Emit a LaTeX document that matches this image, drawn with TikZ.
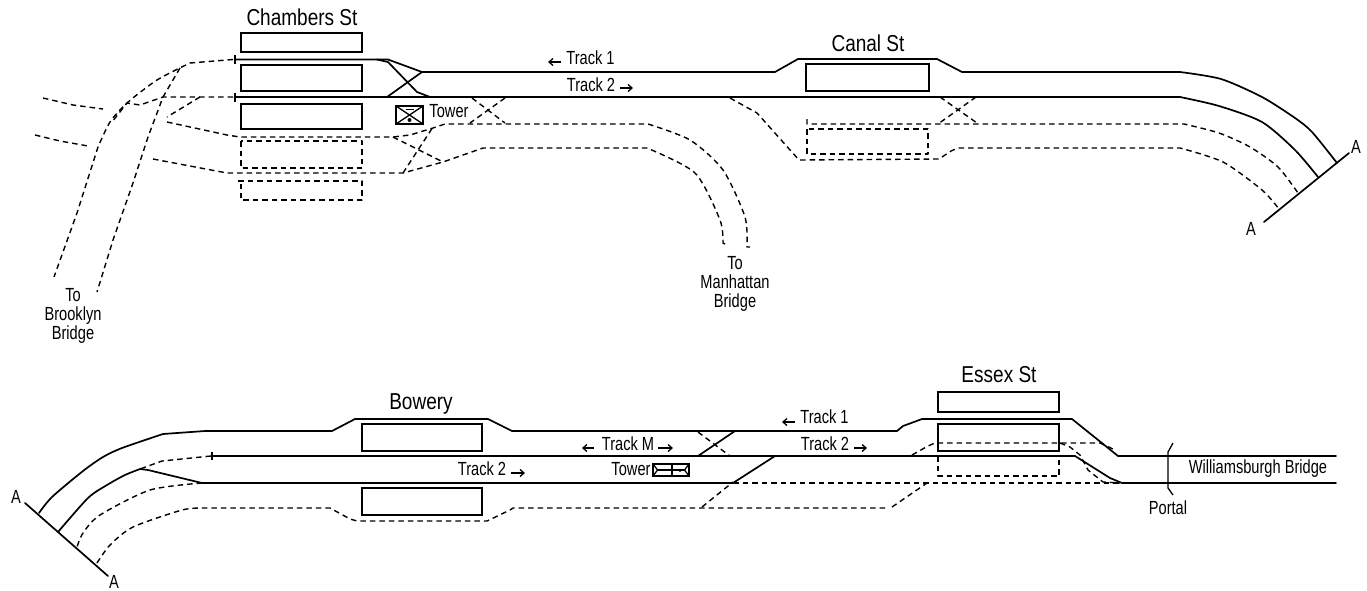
\documentclass[tikz,border=0pt]{standalone}
\usepackage{fontspec}
\setmainfont[FakeStretch=0.77]{Liberation Sans}
\newfontfamily\stationfont[FakeStretch=0.827]{Liberation Sans}
\usetikzlibrary{arrows.meta}
\tikzset{
  x=1pt,y=-1pt,
  track/.style={line width=1.7pt,line join=round,line cap=round,black},
  dash track/.style={line width=1.4pt,line join=round,dash pattern=on 5.5pt off 4pt,black},
  fine/.style={line width=1.3pt,black},
  box/.style={line width=1.8pt,black},
  label/.style={inner sep=0pt,align=center,font=\fontsize{19}{19}\selectfont},
  station/.style={inner sep=0pt,font=\stationfont\fontsize{23}{25}\selectfont},
  arr/.style={line width=1.3pt,-{Straight Barb[length=4pt,width=7pt]}},
  crv/.style={smooth,tension=.45},
}
\newcommand{\plat}[2]{\draw[box] #1 rectangle #2;}
\newcommand{\dplat}[2]{\draw[dash track] #1 rectangle #2;}
\begin{document}
\begin{tikzpicture}
\useasboundingbox (0,0) rectangle (1367,590);
% --- upper map: platforms
\plat{(241,33)}{(362,52)}
\plat{(241,65)}{(362,91)}
\plat{(241,104)}{(362,129)}
\plat{(806,64)}{(929,91)}
\dplat{(241,141)}{(362,168)}
\draw[dash track] (238,181) -- (362,181) -- (362,200) -- (241,200) -- (241,184);
\dplat{(807,129)}{(928,154)}
% --- upper map: solid tracks
\draw[track] (235,59.5) -- (388,59.5) -- (422,72) -- (775,72) -- (798,59) -- (937,59) -- (962,72)
  -- plot[crv] coordinates {(1180,72) (1221,79) (1262,97) (1295,118) (1312,132) (1337,163)};
\draw[track] (235,97) -- plot[crv] coordinates {(1180,97) (1219,106) (1262,122) (1295,150) (1318,177)};
\draw[track] (377,59.5) -- (388,62) -- (417,92) -- (430,97);
\draw[track] (387,97) -- (422,72);
\draw[fine] (235,55) -- (235,64) (235,92.5) -- (235,101.5);
% --- upper map: dashed to Brooklyn Bridge
\draw[dash track] (233,59.5) -- plot[crv] coordinates {(190,63) (157,80) (127,103) (110,122) (98,147)} -- (77,213) -- (54,277);
\draw[dash track] (180,68) -- (163,97) -- (148,137) -- (133,183) -- (113,240) -- (97,292);
\draw[dash track] (233,97) -- (163,97) -- (140,105) -- (127,103) -- (112,122);
\draw[dash track] (200,97) -- (167,117);
\draw[dash track] (43,98) -- (73,105) -- (103,109);
\draw[dash track] (35,135) -- (60,141) -- (88,146);
% --- upper map: dashed to Manhattan Bridge
\draw[dash track] (167,122) -- (227,135) -- (240,137) -- (393,137) -- (410,135) -- (433,128) -- (445,124)
  -- plot[crv] coordinates {(648,124) (690,140) (723,170) (745,217) (747,247)} -- (750,247);
\draw[dash track] (153,159) -- (227,173) -- (403,173) -- (443,162) -- (483,148)
  -- plot[crv] coordinates {(647,148) (695,173) (720,220) (723,243)} -- (727,245);
\draw[dash track] (393,137) -- (443,162);
\draw[dash track] (403,173) -- (433,127);
\draw[dash track] (472,98) -- (505,123);
\draw[dash track] (505,98) -- (470,123);
% --- upper map: dashed at Canal St
\draw[dash track] (730,98) -- (757,113) -- (799,160) -- (939,159) -- (951,151) -- (958,148)
  -- plot[crv] coordinates {(1180,148) (1223,162) (1262,190) (1279,209)};
\draw[dash track] (807,119) -- (807,124)
  -- plot[crv] coordinates {(1184,124) (1219,133) (1250,147) (1278,167) (1298,193)};
\draw[dash track] (940,97) -- (977,123);
\draw[dash track] (976,97) -- (938,124);
\draw[track] (1349,153) -- (1264,222);
% --- upper labels
\node[station] (chambers) at (302,17) {Chambers St};
\node[station] (canal) at (868,43) {Canal St};
\node[label] (t1a) at (590.5,58) {Track 1};
\node[label] (t2a) at (591,85) {Track 2};
\draw[arr] (561,62) -- (548,62);
\draw[arr] (620,88) -- (633,88);
\node[label] (towera) at (449,111) {Tower};
\node[label] (manh) at (735,284) {To\\Manhattan\\Bridge};
\node[label] (brook) at (73,316) {To\\Brooklyn\\Bridge};
\node[label] (aa) at (1356,147) {A};
\node[label] (ab) at (1251,229) {A};
% tower symbol
\draw[box] (396,106) rectangle (423,124);
\draw[fine] (396,106) -- (423,124) (423,106) -- (396,124);
\draw[fine] (405.5,109.5) -- (414,109.5);
\fill (409.5,120) circle (2pt);
% --- lower map: platforms
\plat{(362,424)}{(482,451)}
\plat{(362,488)}{(482,515)}
\plat{(938,392)}{(1059,412)}
\plat{(938,424)}{(1059,451)}
\draw[dash track] (938,456) -- (938,476) -- (1059,476) -- (1059,456);
% --- lower map: solid tracks
\draw[track] plot[crv] coordinates {(39,513) (52,497) (83,471) (103,457) (122,448) (163,434)} -- (205,431) -- (332,431)
  -- (355,419) -- (488,419) -- (512,431) -- (897,431) -- (903,426) -- (922,419) -- (1072,419) -- (1118,456) -- (1336,456);
\draw[track] (212,456) -- (1075,456) -- (1110,478) -- (1122,483) -- (1336,483);
\draw[track] (698,456) -- (735,431);
\draw[track] plot[crv] coordinates {(58,532) (88,498) (107,485) (125,475) (140,469)} -- (148,470) -- (202,483) -- (733,483) -- (775,456);
\draw[fine] (212,452) -- (212,460);
\draw[track] (25,503) -- (108,576);
% --- lower map: dashed
\draw[dash track] (698,432) -- (730,456);
\draw[dash track] (211,456) -- (162,461) -- (140,469);
\draw[dash track] plot[crv] coordinates {(202,483) (150,490) (100,515) (83,533) (77,547)};
\draw[dash track] plot[crv] coordinates {(97,563) (110,545) (133,527) (182,510) (203,508)} -- (330,508) -- (350,519) -- (357,521)
  -- (487,521) -- (510,510) -- (513,508) -- (888,508);
\draw[dash track] (702,507) -- (733,482);
\draw[dash track] (733,483) -- (1122,483);
\draw[dash track] (892,507) -- (927,483);
\draw[dash track] (912,455) -- (928,446) -- (935,443) -- (1100,443) -- (1113,449);
\draw[dash track] (1060,443) -- (1070,447) -- (1080,455) -- (1088,470) -- (1103,482) -- (1120,483);
% portal
\draw[fine] (1173,443) -- (1168,452) -- (1168,488) -- (1173,495);
% --- lower labels
\node[station] (bowery) at (421,404) {Bowery};
\node[station] (essex) at (999,375) {Essex St};
\node[label] (t1b) at (824.5,417) {Track 1};
\draw[arr] (795,422) -- (782,422);
\node[label] (tm) at (628,444) {Track M};
\draw[arr] (594,448) -- (582,448);
\draw[arr] (658,448) -- (673,448);
\node[label] (t2b) at (825,444) {Track 2};
\draw[arr] (854,448) -- (867,448);
\node[label] (t2c) at (482,469) {Track 2};
\draw[arr] (511,473) -- (525,473);
\node[label] (towerb) at (631,469) {Tower};
\node[label] (will) at (1258,469) {Williamsburgh Bridge};
\node[label] (portal) at (1168,508) {Portal};
\node[label] (ac) at (16,497) {A};
\node[label] (ad) at (114,582) {A};
% lower tower symbol
\draw[box] (653,464) rectangle (689,476);
\draw[fine] (653,464) -- (657.5,470) -- (653,476) (689,464) -- (684.5,470) -- (689,476);
\draw[fine] (657.5,470) -- (684.5,470) (672,464) -- (672,476);
\fill (680,471) circle (1.2pt);
\end{tikzpicture}
\end{document}
